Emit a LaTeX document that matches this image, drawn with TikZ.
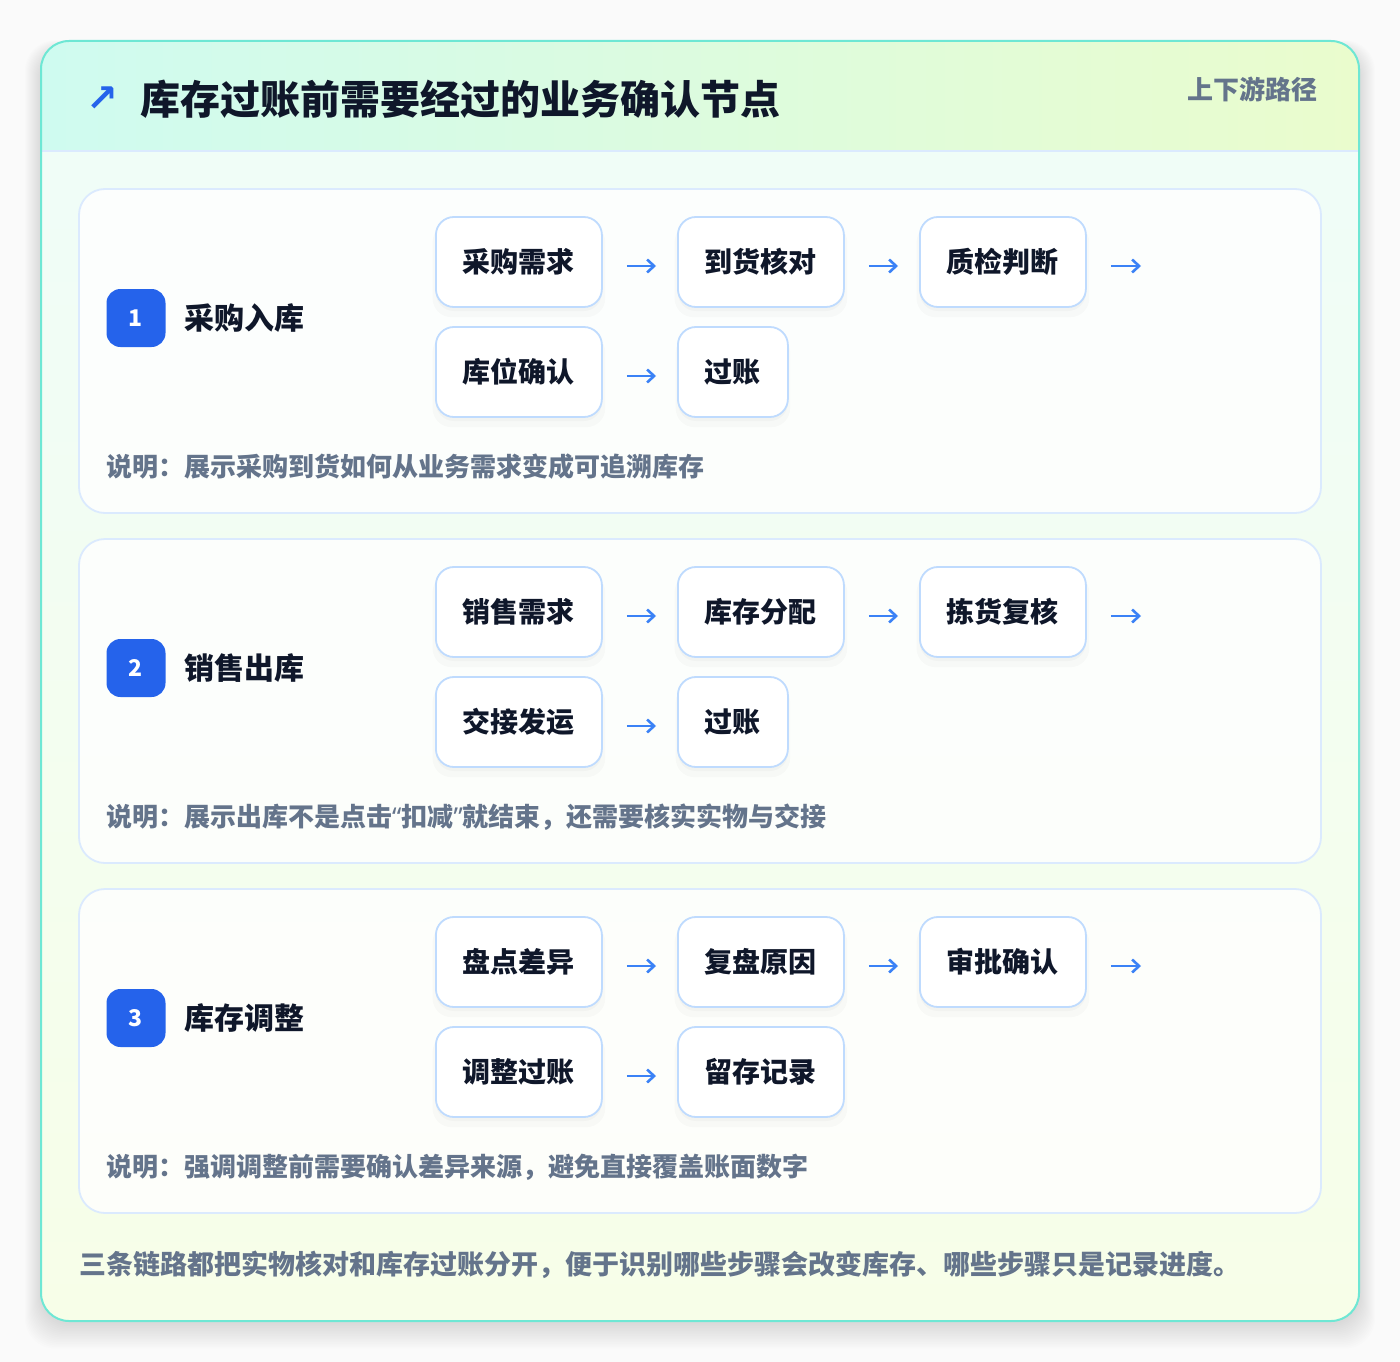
\documentclass[tikz,border=0pt]{standalone}
\usepackage{fontspec}
\setmainfont{Noto Sans CJK SC}
\newfontfamily\symfont{DejaVu Sans}
\newfontfamily\latinfont{Noto Sans}
\usetikzlibrary{arrows.meta,shadows}
\definecolor{ink}{HTML}{0F172A}
\definecolor{muted}{HTML}{64748B}
\definecolor{badgeblue}{HTML}{2563EB}
\definecolor{arrowblue}{HTML}{3B82F6}
\definecolor{boxline}{HTML}{BFDBFE}
\definecolor{cardline}{HTML}{DBEAFE}
\definecolor{outerline}{HTML}{6EE7D4}
\definecolor{pagebg}{HTML}{FAFAFA}
\definecolor{bodytop}{HTML}{EFFDF9}
\definecolor{bodybot}{HTML}{F7FEE8}
\definecolor{hdl}{HTML}{CFFBF0}
\definecolor{hdm}{HTML}{DAFBE3}
\definecolor{hdr}{HTML}{EAFCCD}
\newcommand\descText{}
\newcommand\stagecard[9]{%
  \draw[cardbox] (79,#2) rectangle (1321,{#2+324});
  \node[badge] (#1n) at (136,{#2+129}) {#3};
  \node[ctitle] (#1t) at (184,{#2+129}) {#4};
  \node[stepbox] (#1a) at (435,{#2+73}) {#5};
  \node[stepbox] (#1b) at (677,{#2+73}) {#6};
  \node[stepbox] (#1c) at (919,{#2+73}) {#7};
  \coordinate (#1e) at (1141,{#2+77});
  \node[stepbox] (#1d) at (435,{#2+183}) {#8};
  \node[stepbox] (#1f) at (677,{#2+183}) {#9};
  \draw[flow] ([yshift=-4pt]#1a.east) -- ([yshift=-4pt]#1b.west);
  \draw[flow] ([yshift=-4pt]#1b.east) -- ([yshift=-4pt]#1c.west);
  \draw[flow, shorten >=0pt] ([yshift=-4pt]#1c.east) -- (#1e);
  \draw[flow] ([yshift=-4pt]#1d.east) -- ([yshift=-4pt]#1f.west);
  \node[desc] (#1x) at (106,{#2+278}) {\descText};
}
\begin{document}
\begin{tikzpicture}[x=1pt,y=-1pt,
  cardbox/.style={draw=cardline, line width=1.8pt, fill=white, fill opacity=0.8, rounded corners=26pt},
  badge/.style={fill=badgeblue, rounded corners=14pt, minimum width=59pt, minimum height=58pt, inner sep=0pt, text=white, font=\fontsize{23}{23}\selectfont\bfseries},
  ctitle/.style={anchor=west, inner sep=0pt, text=ink, font=\fontsize{30}{30}\selectfont\bfseries},
  stepbox/.style={anchor=west, draw=boxline, line width=1.8pt, fill=white, rounded corners=18pt, minimum height=90pt, inner xsep=27pt, inner ysep=0pt, text=ink, font=\fontsize{28}{28}\selectfont\bfseries,
    drop shadow={shadow xshift=0pt, shadow yshift=-8pt, shadow scale=1.04, opacity=0.018, fill=black},
    drop shadow={shadow xshift=0pt, shadow yshift=-4pt, opacity=0.025, fill=black}},
  flow/.style={draw=arrowblue, line width=2.8pt, -{Straight Barb[length=7pt,width=13pt,line width=2.6pt]}, shorten <=24pt, shorten >=21pt},
  desc/.style={anchor=west, inner sep=0pt, text=muted, font=\fontsize{26}{26}\selectfont\bfseries}
]
\useasboundingbox (0,0) rectangle (1400,1362);
\fill[pagebg] (0,0) rectangle (1400,1362);
% soft shadow of the outer panel
\foreach \i in {1,...,16}
  \fill[black, opacity=0.008, rounded corners=30pt] ({41-\i},{50-\i*0.6}) rectangle ({1359+\i},{1323+\i*1.6});
% outer panel body
\path[rounded corners=28pt, top color=bodytop, bottom color=bodybot] (41,41) rectangle (1359,1321);
\begin{scope}
  \clip[rounded corners=28pt] (41,41) rectangle (1359,1321);
  \shade[left color=hdl, middle color=hdm, right color=hdr] (41,41) rectangle (1359,151);
\end{scope}
\draw[cardline, line width=1.8pt] (42,151) -- (1358,151);
\draw[outerline, line width=2pt, rounded corners=28pt] (41,41) rectangle (1359,1321);
% header
\node[text=badgeblue, inner sep=0pt, font=\symfont\bfseries\fontsize{38}{38}\selectfont] (icon) at (102,99) {↗};
\node[anchor=west, inner sep=0pt, text=ink, font=\fontsize{40}{40}\selectfont\bfseries] (title) at (140,99) {库存过账前需要经过的业务确认节点};
\node[anchor=east, inner sep=0pt, text=muted, font=\fontsize{26}{26}\selectfont\bfseries] (tag) at (1318,89) {上下游路径};
% cards
\renewcommand\descText{说明：展示采购到货如何从业务需求变成可追溯库存}
\stagecard{p}{189}{1}{采购入库}{采购需求}{到货核对}{质检判断}{库位确认}{过账}
\renewcommand\descText{说明：展示出库不是点击{\latinfont“}扣减{\latinfont”}就结束，还需要核实实物与交接}
\stagecard{s}{539}{2}{销售出库}{销售需求}{库存分配}{拣货复核}{交接发运}{过账}
\renewcommand\descText{说明：强调调整前需要确认差异来源，避免直接覆盖账面数字}
\stagecard{a}{889}{3}{库存调整}{盘点差异}{复盘原因}{审批确认}{调整过账}{留存记录}
% footer
\node[anchor=west, inner sep=0pt, text=muted, font=\fontsize{27}{27}\selectfont\bfseries] (foot) at (79,1265) {三条链路都把实物核对和库存过账分开，便于识别哪些步骤会改变库存、哪些步骤只是记录进度。};
\end{tikzpicture}
\end{document}
